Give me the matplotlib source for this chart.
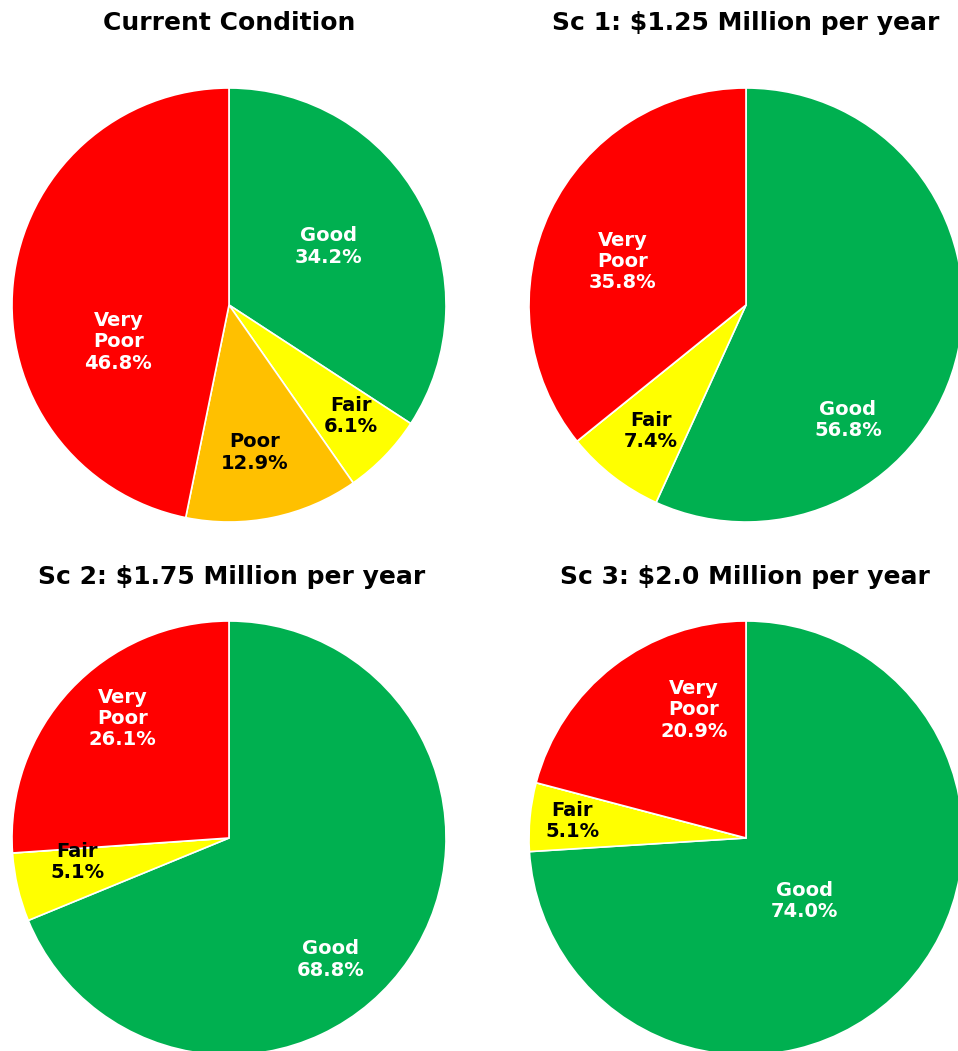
import matplotlib.pyplot as plt

# condition shares (%), clockwise from 12 o'clock
titles = ["Current Condition", "Sc 1: \\$1.25 Million per year",
          "Sc 2: \\$1.75 Million per year", "Sc 3: \\$2.0 Million per year"]
cats = ["Good", "Fair", "Poor", "Very\nPoor"]
current = [34.2, 6.1, 12.9, 46.8]
sc1 = [56.8, 7.4, 0.0, 35.8]
sc2 = [68.8, 5.1, 0.0, 26.1]
sc3 = [74.0, 5.1, 0.0, 20.9]

colors = ["#00B050", "#FFFF00", "#FFC000", "#FF0000"]
txt_colors = ["white", "black", "black", "white"]

# layout (pixels, y measured from top of image)
W, H = 958, 1051
R = 217
centers = [(229, 305), (746, 305), (229, 838), (746, 838)]
title_pos = [(229, 23), (746, 23), (232, 577), (745, 577)]
# label offsets from pie centre, in units of radius (x right, y up)
label_off = [
    [(0.46, 0.27), (0.56, -0.51), (0.12, -0.68), (-0.51, -0.17)],
    [(0.47, -0.53), (-0.44, -0.58), None, (-0.57, 0.20)],
    [(0.47, -0.56), (-0.70, -0.11), None, (-0.49, 0.55)],
    [(0.27, -0.29), (-0.80, 0.08), None, (-0.24, 0.59)],
]

fig = plt.figure(figsize=(W / 100, H / 100), dpi=100)
ax = fig.add_axes([0, 0, 1, 1])

for k, vals in enumerate([current, sc1, sc2, sc3]):
    cx, cy = centers[k]
    ax.pie(vals, colors=colors, startangle=90, counterclock=False,
           center=(cx, H - cy), radius=R,
           wedgeprops=dict(edgecolor="white", linewidth=1.2))
    for i, v in enumerate(vals):
        if v <= 0:
            continue
        dx, dy = label_off[k][i]
        ax.text(cx + dx * R, H - cy + dy * R, f"{cats[i]}\n{v:.1f}%",
                ha="center", va="center", fontsize=14, fontweight="bold",
                color=txt_colors[i], linespacing=1.15)
    tx, ty = title_pos[k]
    ax.text(tx, H - ty, titles[k], ha="center", va="center",
            fontsize=18, fontweight="bold", color="black")

ax.set_xlim(0, W)
ax.set_ylim(0, H)
ax.set_aspect("auto")
ax.axis("off")
fig.savefig("out.png", dpi=100)
